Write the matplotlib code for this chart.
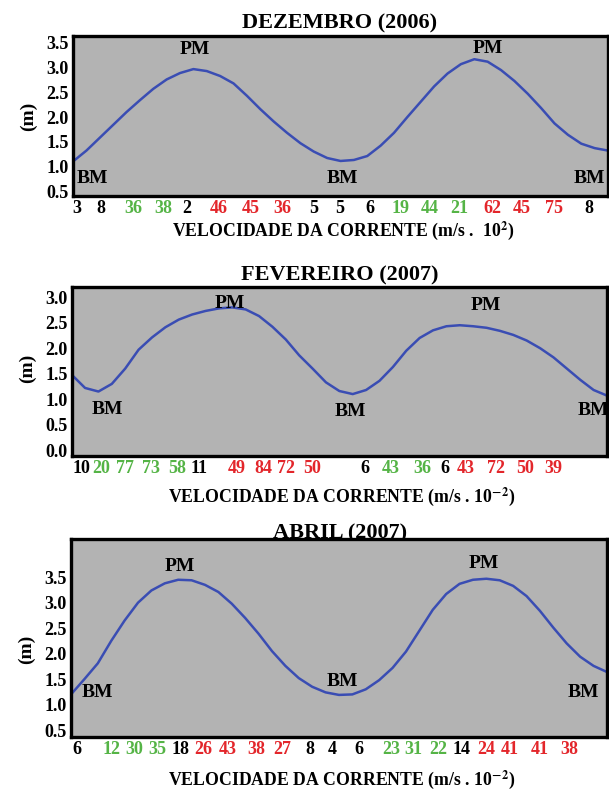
import numpy as np
import matplotlib
matplotlib.use("Agg")
import matplotlib.pyplot as plt

plt.rcParams["font.family"] = ["Liberation Serif", "DejaVu Serif"]
plt.rcParams["font.weight"] = "bold"
plt.rcParams["mathtext.fontset"] = "stix"

# ===================== 数据 (x: posição relativa no eixo, 0-100) =====================
# nível da maré (m), amostrado a cada 2.5 % da largura do eixo
dez_nivel = [1.10, 1.32, 1.58, 1.84, 2.10, 2.34, 2.57, 2.76, 2.89, 2.97,
             2.93, 2.83, 2.68, 2.43, 2.16, 1.91, 1.68, 1.47, 1.30, 1.17,
             1.11, 1.13, 1.21, 1.42, 1.68, 2.00, 2.31, 2.62, 2.88, 3.07,
             3.17, 3.12, 2.95, 2.73, 2.47, 2.18, 1.87, 1.64, 1.46, 1.37, 1.32]
fev_nivel = [1.48, 1.22, 1.15, 1.30, 1.60, 1.97, 2.21, 2.41, 2.56, 2.66,
             2.73, 2.78, 2.80, 2.76, 2.63, 2.42, 2.17, 1.86, 1.60, 1.33,
             1.16, 1.10, 1.18, 1.36, 1.63, 1.95, 2.20, 2.35, 2.43, 2.45,
             2.43, 2.40, 2.34, 2.26, 2.15, 2.00, 1.82, 1.60, 1.38, 1.18, 1.07]
abr_nivel = [1.20, 1.50, 1.81, 2.25, 2.65, 3.00, 3.24, 3.38, 3.45, 3.44,
             3.35, 3.21, 2.98, 2.70, 2.39, 2.05, 1.76, 1.52, 1.35, 1.24,
             1.19, 1.20, 1.30, 1.48, 1.72, 2.04, 2.45, 2.86, 3.17, 3.37,
             3.45, 3.47, 3.44, 3.33, 3.13, 2.84, 2.51, 2.20, 1.94, 1.76, 1.64]

# velocidade da corrente (m/s . 10^-2) e posição de cada leitura
dez_vel = ["3", "8", "36", "38", "2", "46", "45", "36", "5", "5", "6",
           "19", "44", "21", "62", "45", "75", "8"]
dez_pos = [0.8, 5.2, 11.2, 16.8, 21.3, 27.3, 33.3, 39.1, 44.9, 49.9, 55.5,
           61.3, 66.7, 72.1, 78.3, 83.9, 89.9, 96.4]
dez_cor = list("kkggkrrrkkkgggrrrk")

fev_vel = ["10", "20", "77", "73", "58", "11", "49", "84", "72", "50", "6",
           "43", "36", "6", "43", "72", "50", "39"]
fev_pos = [1.9, 5.5, 9.9, 14.9, 19.7, 23.7, 30.8, 35.8, 40.0, 44.9, 54.7,
           59.6, 65.5, 69.8, 73.7, 79.3, 84.8, 90.0]
fev_cor = list("kggggkrrrrkggkrrrr")

abr_vel = ["6", "12", "30", "35", "18", "26", "43", "38", "27", "8", "4",
           "6", "23", "31", "22", "14", "24", "41", "41", "38"]
abr_pos = [1.1, 7.6, 11.8, 16.1, 20.5, 24.7, 29.2, 34.5, 39.4, 44.5, 48.8,
           53.8, 59.7, 63.9, 68.5, 72.9, 77.5, 81.9, 87.4, 93.0]
abr_cor = list("kgggkrrrrkkkgggkrrrr")

# BM / PM: (x, y, texto)
dez_marcas = [(3.7, 0.76, "BM"), (22.8, 3.37, "PM"), (50.3, 0.76, "BM"),
              (77.6, 3.39, "PM"), (96.6, 0.76, "BM")]
fev_marcas = [(6.6, 0.79, "BM"), (29.6, 2.88, "PM"), (52.0, 0.75, "BM"),
              (77.4, 2.84, "PM"), (97.4, 0.77, "BM")]
abr_marcas = [(4.9, 1.23, "BM"), (20.3, 3.72, "PM"), (50.7, 1.46, "BM"),
              (77.0, 3.77, "PM"), (95.6, 1.23, "BM")]

CORES = {"k": "black", "g": "#55b446", "r": "#e3262b"}
FUNDO = "#b3b3b3"
LINHA = "#3a4db3"

# ===================== figura =====================
fig = plt.figure(figsize=(6.09, 7.93), dpi=100)

paineis = [
    # rect, titulo, nivel, vel, pos, cor, marcas, ylim, yticks, sup, xlab_y, ylab_y, title_y
    ([0.1199, 0.7528, 0.8785, 0.2018], "DEZEMBRO (2006)", dez_nivel, dez_vel, dez_pos,
     dez_cor, dez_marcas, (0.40, 3.64), [0.5, 1.0, 1.5, 2.0, 2.5, 3.0, 3.5],
     r" 10$^{\mathbf{2}}$)", -0.215, 0.5, 0.970),
    ([0.1177, 0.4246, 0.8790, 0.2135], "FEVEREIRO (2007)", fev_nivel, fev_vel, fev_pos,
     fev_cor, fev_marcas, (-0.12, 3.20), [0.0, 0.5, 1.0, 1.5, 2.0, 2.5, 3.0],
     r"10$^{\mathbf{-2}}$)", -0.24, 0.52, 0.652),
    ([0.1166, 0.0710, 0.8800, 0.2493], "ABRIL (2007)", abr_nivel, abr_vel, abr_pos,
     abr_cor, abr_marcas, (0.37, 4.25), [0.5, 1.0, 1.5, 2.0, 2.5, 3.0, 3.5],
     r"10$^{\mathbf{-2}}$)", -0.215, 0.44, 0.327),
]

for rect, titulo, nivel, vel, pos, cor, marcas, ylim, yticks, sup, xlab_y, ylab_y, title_y in paineis:
    ax = fig.add_axes(rect)
    ax.set_facecolor(FUNDO)
    x = np.linspace(0, 100, len(nivel))
    ax.plot(x, nivel, color=LINHA, linewidth=1.8)

    for mx, my, txt in marcas:
        ax.text(mx, my, txt, ha="center", va="center", fontsize=14, fontweight="bold")

    ax.set_xlim(0, 100)
    ax.set_ylim(*ylim)
    ax.set_yticks(yticks)
    ax.set_yticklabels([f"{v:.1f}" for v in yticks], fontsize=13, fontweight="bold")
    ax.set_xticks(pos)
    ax.set_xticklabels(vel, fontsize=13, fontweight="bold")
    for lab, c in zip(ax.get_xticklabels(), cor):
        lab.set_color(CORES[c])
    ax.tick_params(length=0, pad=3)
    for s in ax.spines.values():
        s.set_linewidth(2.4)

    ax.set_xlabel("VELOCIDADE DA CORRENTE (m/s . " + sup, fontsize=12.8, fontweight="bold")
    ax.xaxis.set_label_coords(0.505, xlab_y)
    ax.xaxis.label.set_va("center")
    ax.set_ylabel("(m)", fontsize=14, fontweight="bold")
    ax.yaxis.set_label_coords(-0.083, ylab_y)
    ax.yaxis.label.set_va("center")

    fig.text(0.558, title_y, titulo, ha="center", va="center", fontsize=16,
             fontweight="bold", zorder=-1)

plt.savefig("out.png", dpi=100)
